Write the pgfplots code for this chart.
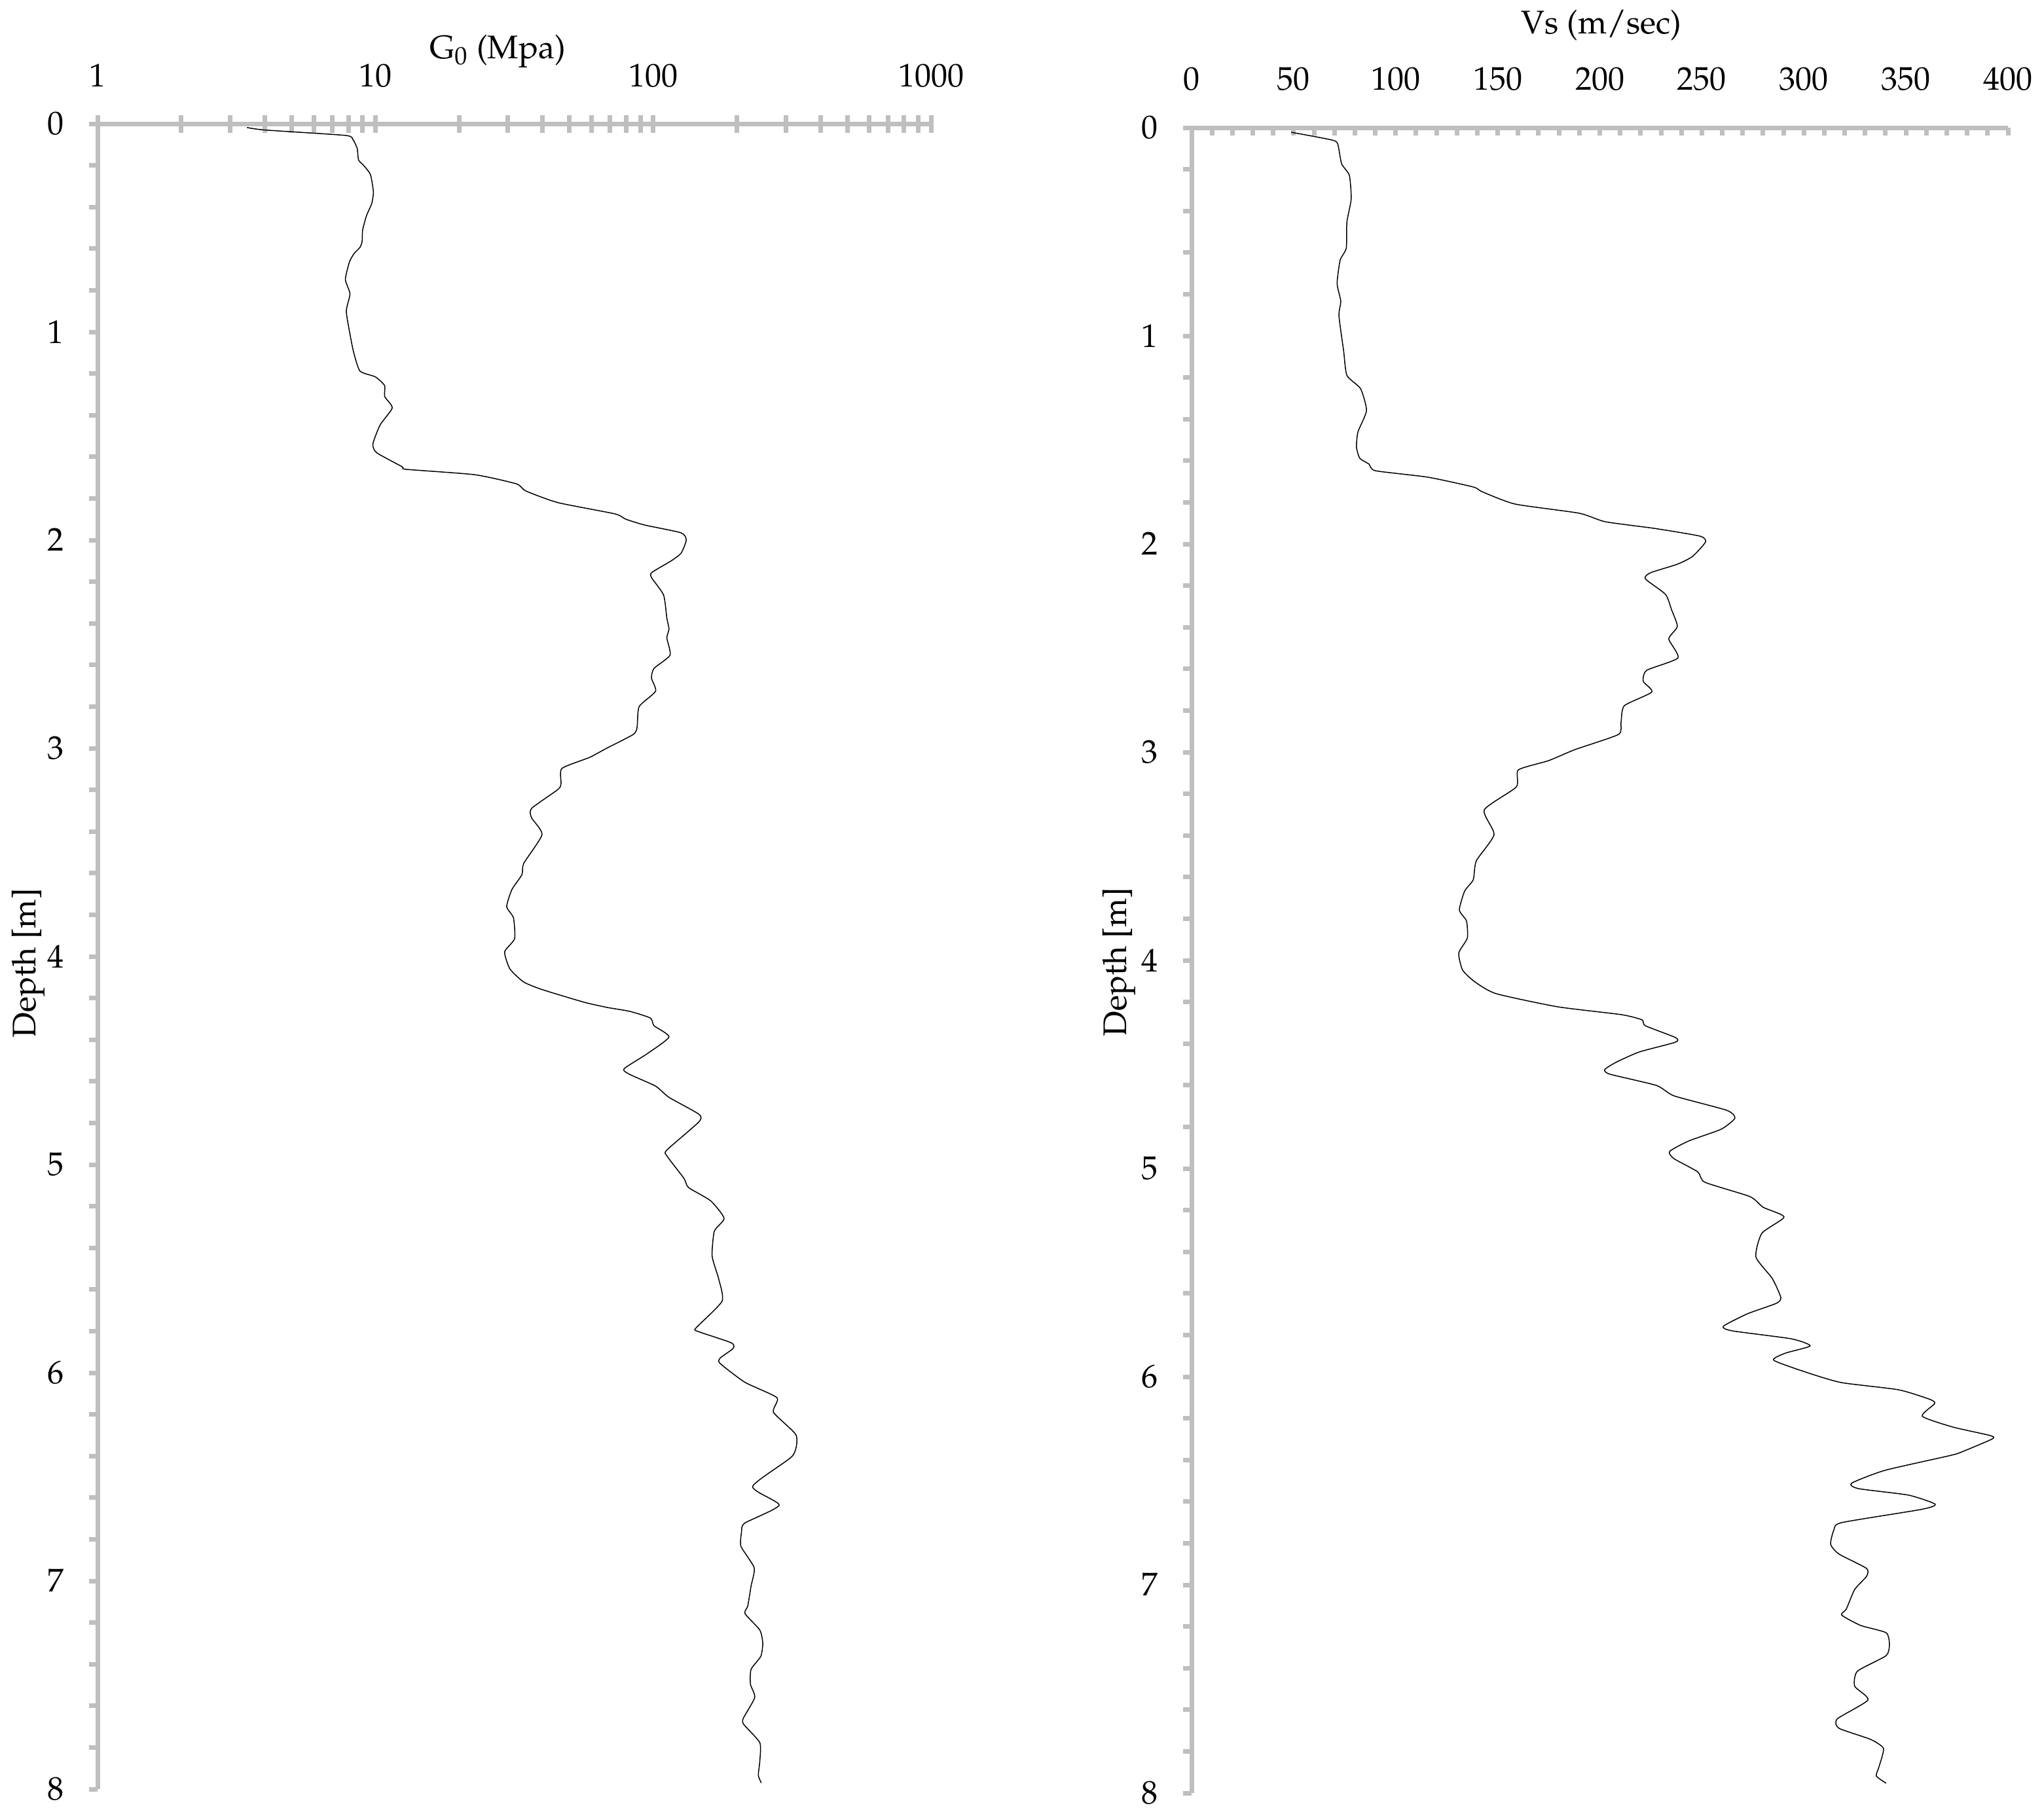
\documentclass[border=0pt]{standalone}
\usepackage[T1]{fontenc}
\usepackage{mathpazo}
\usepackage{pgfplots}
\pgfplotsset{compat=1.18}
\definecolor{axgray}{RGB}{191,191,191}

\pgfplotstableread{
G d
3.45 0.018
4.0 0.030
7.8 0.056
8.3 0.076
8.6 0.118
8.7 0.174
9.1 0.202
9.6 0.244
9.84 0.328
9.7 0.384
9.3 0.44
9.0 0.51
8.96 0.566
8.8 0.594
8.4 0.622
8.07 0.663
7.8 0.748
8.1 0.817
7.86 0.9
8.1 1.01
8.35 1.097
8.8 1.188
10.0 1.216
10.8 1.258
10.8 1.31
11.5 1.365
10.4 1.447
9.8 1.538
10.1 1.58
12.5 1.648
12.9 1.66
22.8 1.686
32.2 1.73
34.8 1.764
45.4 1.82
72.8 1.874
79.8 1.90
93.4 1.928
126 1.965
131.5 2.0
126 2.063
116 2.10
99 2.155
98.6 2.18
109 2.264
112 2.375
114 2.427
112 2.47
115 2.553
100.7 2.616
98.6 2.663
102 2.726
89 2.80
87.5 2.90
84.7 2.934
68 3.0
59 3.044
46.9 3.097
46.6 3.17
45.4 3.198
36.5 3.289
36.5 3.334
39.8 3.415
34.2 3.553
33.7 3.607
31 3.679
29.7 3.761
31.4 3.814
31.7 3.915
29.2 3.978
30.5 4.06
34.2 4.123
40 4.16
56.4 4.22
68.2 4.245
82.4 4.264
97.7 4.296
100.7 4.333
114 4.387
95 4.468
78.5 4.54
82.4 4.567
102 4.623
114 4.677
146 4.758
146 4.795
112 4.93
112 4.958
129 5.066
134 5.11
161 5.174
180 5.258
166 5.32
163 5.44
172 5.548
177 5.656
143 5.783
144 5.80
191 5.856
194 5.883
174 5.93
174 5.955
214 6.046
279 6.12
271 6.19
327 6.30
317 6.40
228 6.546
284 6.636
213 6.723
208 6.765
207 6.834
231 6.937
225 7.025
219 7.12
214 7.157
242 7.236
248 7.299
244 7.362
225 7.425
224 7.497
232 7.56
211 7.66
212 7.69
242 7.777
242 7.865
239 7.934
245 7.97
}\gzero

\pgfplotstableread{
V d
48.8 0.022
67.8 0.057
71.5 0.075
73.5 0.173
77.3 0.229
78.2 0.342
76.1 0.454
75.8 0.579
72.8 0.636
71.3 0.749
73.1 0.833
72.2 0.903
74.5 1.072
76.1 1.19
82.8 1.254
85.7 1.359
81.5 1.462
80.8 1.535
82.4 1.588
86.9 1.616
90.1 1.648
115.8 1.679
138 1.726
142.4 1.749
158.5 1.808
189.9 1.852
202.7 1.893
226.8 1.925
249 1.962
251.8 1.99
245.4 2.06
238 2.097
224.9 2.138
222.3 2.167
232.2 2.242
235.1 2.314
238 2.396
233.8 2.456
238.3 2.547
222.9 2.607
221.3 2.66
225.5 2.711
212 2.777
210.4 2.858
209.1 2.915
188 2.987
174.8 3.041
160.1 3.085
159.1 3.167
143.4 3.277
148.2 3.396
139.5 3.522
138 3.613
133.8 3.667
131.2 3.758
134.7 3.811
135.1 3.893
130.9 3.965
132.8 4.047
138.9 4.104
149.2 4.16
179.3 4.223
210.7 4.261
220.7 4.286
222.3 4.314
237.1 4.371
237.1 4.393
219.4 4.44
207.9 4.49
202.4 4.525
205 4.547
227.8 4.601
236.4 4.651
262.1 4.72
266.2 4.758
259.5 4.811
243.5 4.868
234.2 4.918
236.4 4.953
248 5.016
251.5 5.066
273.6 5.135
280 5.186
290.3 5.233
279.4 5.311
276.5 5.425
284.5 5.528
288.7 5.62
286.4 5.648
272.3 5.698
260.5 5.758
265 5.78
293.8 5.818
303.1 5.852
290.9 5.887
285.2 5.921
300.9 5.978
318.2 6.028
346.4 6.063
362 6.11
364 6.13
358 6.19
373 6.242
391.4 6.283
392.3 6.299
378.2 6.358
372.4 6.377
339.7 6.45
323.3 6.512
326.9 6.538
351.3 6.569
364.4 6.613
357.3 6.638
318.5 6.701
314.7 6.736
313.1 6.805
317.2 6.852
330.7 6.921
330.7 6.959
324.9 7.022
320.8 7.116
318.5 7.145
327.8 7.195
340.3 7.23
341.9 7.286
340.3 7.34
326.2 7.415
324.9 7.487
331.4 7.553
316.3 7.644
317.2 7.689
332.6 7.742
339 7.786
336.8 7.874
335.5 7.918
340.3 7.953
}\vs

\pgfplotsset{
  depthbase/.style={
    scale only axis, height=508.8pt, y dir=reverse, ymin=0, ymax=8,
    clip=false,
    every tick/.style={axgray, line width=1.4pt},
    tick label style={font=\fontsize{10}{12}\selectfont, text=black},
    label style={font=\fontsize{10}{12}\selectfont, text=black},
    axis line style={axgray, line width=1.4pt, -},
  },
  yaxisstyle/.style={
    axis y line*=left, axis x line=none, xtick=\empty,
    ytick={0,1,...,8}, minor y tick num=4,
    ytick align=outside, major tick length=2.6pt, minor tick length=2.6pt,
    yticklabel style={anchor=center, xshift=-10.2pt},
    ylabel={Depth [m]},
  },
  curve/.style={black, line width=0.3pt, line join=round, smooth, tension=0.35},
}

\begin{document}
\begin{tikzpicture}
\path[use as bounding box] (0,0) rectangle (624.4pt,553.6pt);

% ---- left panel: G0 ----
\begin{axis}[depthbase, at={(29.8pt,7pt)}, anchor=south west, width=254.6pt,
  xmode=log, xmin=1, xmax=1000,
  axis x line*=top, axis y line=none, ytick=\empty,
  xtick={1,10,100,1000}, xticklabels={1,10,100,1000},
  minor xtick={2,3,4,5,6,7,8,9,20,30,40,50,60,70,80,90,200,300,400,500,600,700,800,900},
  xtick align=center, major tick length=5.4pt, minor tick length=5.4pt,
  xticklabel style={anchor=base, yshift=8.7pt},
  xlabel={G\textsubscript{0} (Mpa)},
  xlabel style={at={(axis description cs:0.48,1.0393)}, anchor=base},
]
\addplot[curve] table[x=G, y=d] {\gzero};
\end{axis}
\begin{axis}[depthbase, at={(29.8pt,7pt)}, anchor=south west, width=254.6pt,
  xmode=log, xmin=1, xmax=1000, yaxisstyle,
  ylabel style={at={(axis description cs:-0.0745,0.496)}, anchor=base},
]
\end{axis}

% ---- right panel: Vs ----
\begin{axis}[depthbase, at={(364pt,5.8pt)}, anchor=south west, width=249.4pt,
  xmin=0, xmax=400,
  axis x line*=top, axis y line=none, ytick=\empty,
  xtick={0,50,...,400},
  minor xtick={10,20,...,390},
  xtick align=inside, major tick length=2.4pt, minor tick length=2.4pt,
  xticklabel style={anchor=base, yshift=11.5pt},
  xlabel={Vs (m/sec)},
  xlabel style={at={(axis description cs:0.502,1.0566)}, anchor=base},
]
\addplot[curve] table[x=V, y=d] {\vs};
\end{axis}
\begin{axis}[depthbase, at={(364pt,5.8pt)}, anchor=south west, width=249.4pt,
  xmin=0, xmax=400, yaxisstyle,
  ylabel style={at={(axis description cs:-0.0802,0.499)}, anchor=base},
]
\end{axis}
\end{tikzpicture}
\end{document}
